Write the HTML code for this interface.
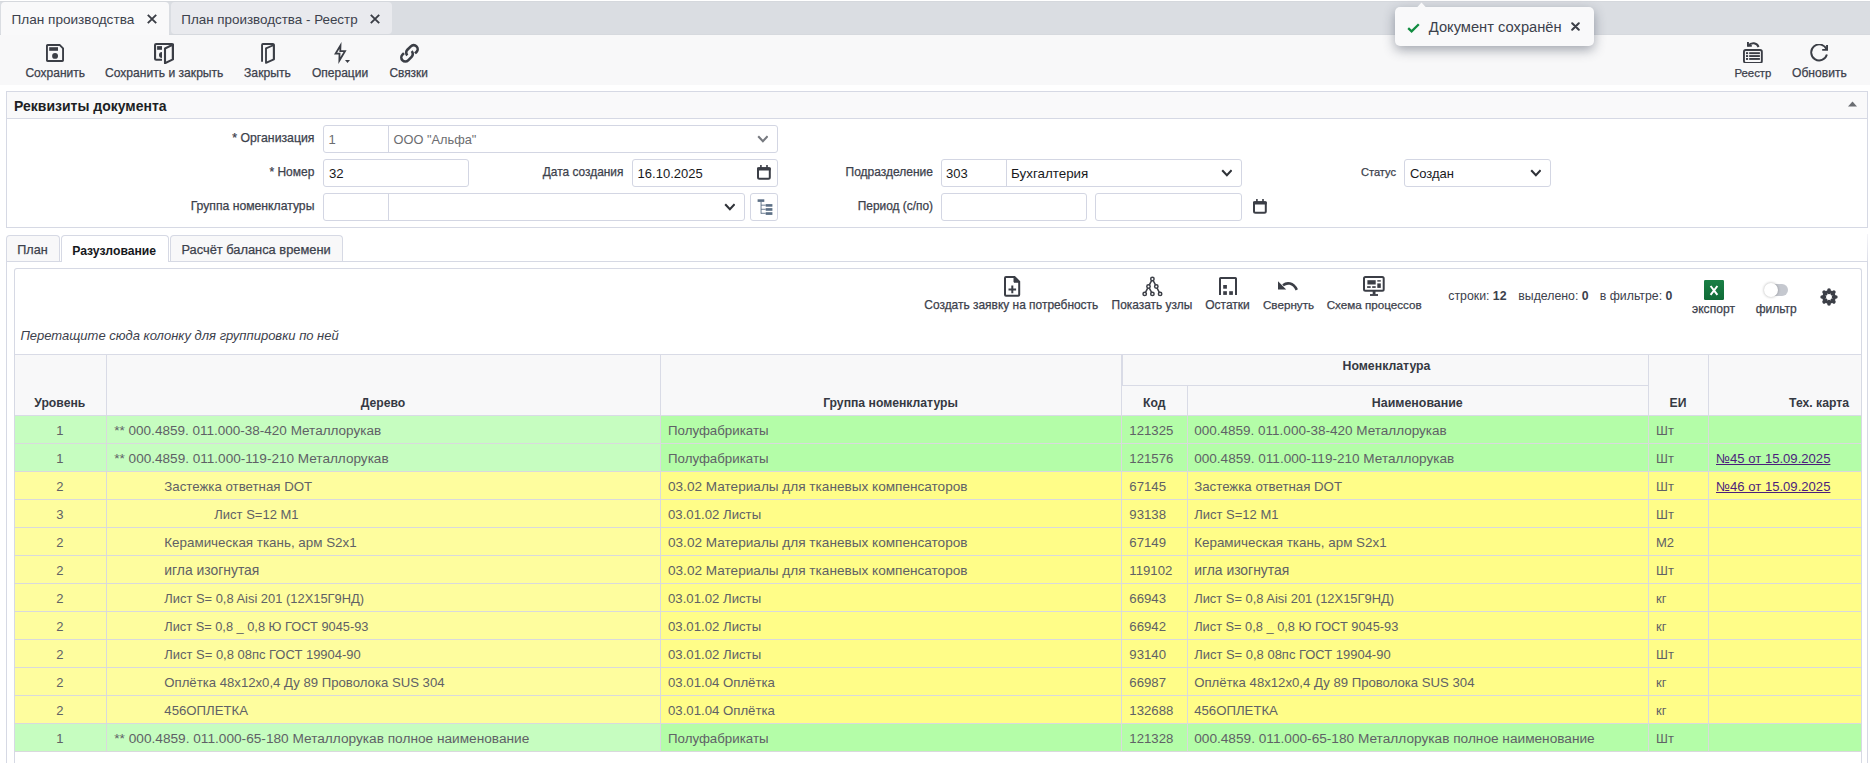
<!DOCTYPE html>
<html><head><meta charset="utf-8"><style>
html,body{margin:0;padding:0;width:1870px;height:763px;overflow:hidden;background:#fff;}
body{position:relative;font-family:"Liberation Sans",sans-serif;}
.t{position:absolute;white-space:pre;}
.r{position:absolute;}
b{font-weight:700;}
</style></head><body>
<div class="r" style="left:0px;top:1px;width:1870px;height:34px;background:#dadde2;border-top:1px solid #d5d8dd;border-bottom:1px solid #d6d9de;box-sizing:border-box;"></div>
<div class="r" style="left:1px;top:2px;width:168px;height:33px;background:#f9f9fa;border-radius:4px 4px 0 0;"></div>
<div class="r" style="left:171px;top:2px;width:221px;height:32px;background:#e9eaee;border-radius:4px 4px 4px 4px;"></div>
<div class="t" style="left:11.5px;top:13px;font-size:13.6px;line-height:13.6px;color:#3c414c;">План производства</div>
<div class="t" style="left:181.3px;top:13px;font-size:13.4px;line-height:13.4px;color:#3c414c;">План производства - Реестр</div>
<svg class="r" style="left:146px;top:13px" width="12" height="12" viewBox="0 0 12 12"><path d="M1.8 1.8L10.2 10.2M10.2 1.8L1.8 10.2" stroke="#3b3e46" stroke-width="1.9" fill="none"/></svg>
<svg class="r" style="left:369px;top:13px" width="12" height="12" viewBox="0 0 12 12"><path d="M1.8 1.8L10.2 10.2M10.2 1.8L1.8 10.2" stroke="#3b3e46" stroke-width="1.9" fill="none"/></svg>
<div class="r" style="left:0px;top:35px;width:1870px;height:50px;background:#f8f8f9;"></div>
<svg class="r" style="left:46px;top:44px" width="18" height="18" viewBox="0 0 18 18"><path d="M0.95 1.65Q0.95 0.95 1.65 0.95H13.6L17.05 4.4V16.35Q17.05 17.05 16.35 17.05H1.65Q0.95 17.05 0.95 16.35Z" fill="none" stroke="#3b3e46" stroke-width="1.9"/><rect x="3.2" y="3.2" width="8.8" height="3.6" fill="#3b3e46"/><circle cx="9.05" cy="11.9" r="2.95" fill="#3b3e46"/></svg>
<svg class="r" style="left:154px;top:43px" width="20" height="21" viewBox="0 0 20 21"><path d="M8 16.8H2.1Q1.05 16.8 1.05 15.8V2.1Q1.05 1.05 2.1 1.05H17.9Q18.95 1.05 18.95 2.1V16.5" fill="none" stroke="#3b3e46" stroke-width="2.1"/><path d="M11 5.5L18.9 1.6V16.4L11 20.2Z" fill="none" stroke="#3b3e46" stroke-width="2.1" stroke-linejoin="round"/><rect x="3.1" y="3.1" width="4.9" height="3.7" fill="#3b3e46"/><path d="M8 9A3 3 0 0 0 8 15Z" fill="#3b3e46"/></svg>
<svg class="r" style="left:261px;top:42px" width="15" height="22" viewBox="0 0 15 22"><path d="M1.05 19.8V2.9Q1.05 2 1.95 2H11.95Q12.85 2 12.85 2.9V17.6" fill="none" stroke="#3b3e46" stroke-width="1.9"/><path d="M5 6.3L12.85 3V17.4L5 20.9Z" fill="none" stroke="#3b3e46" stroke-width="1.85" stroke-linejoin="round"/></svg>
<svg class="r" style="left:334px;top:42px" width="17" height="22" viewBox="0 0 17 22"><path d="M6.47 3.54L1.6 11.6L5.52 11.6L5.37 18.52L11.01 9.1L6.27 9.1Z" fill="none" stroke="#3b3e46" stroke-width="1.8" stroke-linejoin="miter" stroke-miterlimit="12"/><path d="M11 17.9H16L13.5 20.9Z" fill="#3b3e46"/></svg>
<svg class="r" style="left:399px;top:43px" width="21" height="21" viewBox="0 0 21 21"><g transform="translate(10.5 10.3) rotate(-45)" fill="none" stroke="#3b3e46" stroke-width="2.6"><path d="M3.8 4H5.9A4 4 0 0 0 5.9 -4H1A4 4 0 0 0 -3 0"/><path d="M-3.8 -4H-5.9A4 4 0 0 0 -5.9 4H-1A4 4 0 0 0 3 0"/></g></svg>
<div class="t" style="left:25.4px;top:67px;font-size:12px;line-height:12px;color:#3c414c;-webkit-text-stroke:0.25px #3c414c;">Сохранить</div>
<div class="t" style="left:105px;top:67px;font-size:12.1px;line-height:12.1px;color:#3c414c;-webkit-text-stroke:0.25px #3c414c;">Сохранить и закрыть</div>
<div class="t" style="left:244px;top:67px;font-size:12.2px;line-height:12.2px;color:#3c414c;-webkit-text-stroke:0.25px #3c414c;">Закрыть</div>
<div class="t" style="left:312px;top:67px;font-size:12px;line-height:12px;color:#3c414c;-webkit-text-stroke:0.25px #3c414c;">Операции</div>
<div class="t" style="left:389.4px;top:68px;font-size:11.9px;line-height:11.9px;color:#3c414c;-webkit-text-stroke:0.25px #3c414c;">Связки</div>
<svg class="r" style="left:1743px;top:41px" width="21" height="22" viewBox="0 0 21 22"><rect x="0.95" y="8.95" width="17.9" height="12.95" rx="1.8" fill="none" stroke="#3b3e46" stroke-width="1.9"/><g fill="#3b3e46"><rect x="3" y="11.2" width="2.1" height="1.9"/><rect x="3" y="14.1" width="2.1" height="1.9"/><rect x="3" y="17" width="2.1" height="1.9"/><rect x="6.2" y="11.2" width="10.7" height="1.9"/><rect x="6.2" y="14.1" width="10.7" height="1.9"/><rect x="6.2" y="17" width="10.7" height="1.9"/></g><path d="M4.9 4.9C8.6 1 13.8 1.6 15.6 6" fill="none" stroke="#3b3e46" stroke-width="2"/><path d="M4 1H5.9V3.9H8.8V5.8H4Z" fill="#3b3e46"/></svg>
<svg class="r" style="left:1810px;top:44px" width="19" height="19" viewBox="0 0 19 19"><path d="M16.9 10.6A8 8 0 1 1 16.6 5.4" fill="none" stroke="#3b3e46" stroke-width="1.9"/><path d="M18 1V6.8H12.2V4.9H16.1V1Z" fill="#3b3e46"/></svg>
<div class="t" style="left:1734.4px;top:68px;font-size:11.4px;line-height:11.4px;color:#3c414c;-webkit-text-stroke:0.25px #3c414c;">Реестр</div>
<div class="t" style="left:1792px;top:67px;font-size:12.1px;line-height:12.1px;color:#3c414c;-webkit-text-stroke:0.25px #3c414c;">Обновить</div>
<div class="r" style="left:6px;top:91px;width:1862px;height:137px;border:1px solid #d6d9e4;box-sizing:border-box;background:#fff;"></div>
<div class="r" style="left:7px;top:92px;width:1860px;height:26px;background:#f9f9fa;border-bottom:1px solid #d6d9e4;"></div>
<div class="t" style="left:14px;top:99px;font-size:14px;line-height:14px;color:#1d1f24;font-weight:700;">Реквизиты документа</div>
<svg class="r" style="left:1847.8px;top:101.3px" width="9" height="5.6" viewBox="0 0 9 5.6"><path d="M0 5.6L4.5 0.4L9 5.6Z" fill="#6a6d72"/></svg>
<div class="t" style="right:1555.6px;top:132px;font-size:12.25px;line-height:12.25px;color:#3c414c;-webkit-text-stroke:0.25px #3c414c;">* Организация</div>
<div class="t" style="right:1555.6px;top:166px;font-size:12px;line-height:12px;color:#3c414c;-webkit-text-stroke:0.25px #3c414c;">* Номер</div>
<div class="t" style="right:1555.6px;top:200px;font-size:12.2px;line-height:12.2px;color:#3c414c;-webkit-text-stroke:0.25px #3c414c;">Группа номенклатуры</div>
<div class="t" style="right:1246.6px;top:167px;font-size:11.9px;line-height:11.9px;color:#3c414c;-webkit-text-stroke:0.25px #3c414c;">Дата создания</div>
<div class="t" style="right:937px;top:166px;font-size:12px;line-height:12px;color:#3c414c;-webkit-text-stroke:0.25px #3c414c;">Подразделение</div>
<div class="t" style="right:937px;top:201px;font-size:11.9px;line-height:11.9px;color:#3c414c;-webkit-text-stroke:0.25px #3c414c;">Период (с/по)</div>
<div class="t" style="right:474px;top:167px;font-size:11.1px;line-height:11.1px;color:#3c414c;-webkit-text-stroke:0.25px #3c414c;">Статус</div>
<div class="r" style="left:323px;top:125px;width:455px;height:28px;border:1px solid #d3d6e3;border-radius:3px;box-sizing:border-box;background:#fff;"></div>
<div class="r" style="left:388px;top:126px;width:1px;height:26px;background:#d3d6e3;"></div>
<div class="r" style="left:323px;top:159px;width:146px;height:28px;border:1px solid #d3d6e3;border-radius:3px;box-sizing:border-box;background:#fff;"></div>
<div class="r" style="left:323px;top:193px;width:422px;height:28px;border:1px solid #d3d6e3;border-radius:3px;box-sizing:border-box;background:#fff;"></div>
<div class="r" style="left:388px;top:194px;width:1px;height:26px;background:#d3d6e3;"></div>
<div class="r" style="left:750px;top:193px;width:28px;height:28px;border:1px solid #d3d6e3;border-radius:3px;box-sizing:border-box;background:#fff;"></div>
<div class="r" style="left:632px;top:159px;width:146px;height:28px;border:1px solid #d3d6e3;border-radius:3px;box-sizing:border-box;background:#fff;"></div>
<div class="r" style="left:941px;top:159px;width:301px;height:28px;border:1px solid #d3d6e3;border-radius:3px;box-sizing:border-box;background:#fff;"></div>
<div class="r" style="left:1006px;top:160px;width:1px;height:26px;background:#d3d6e3;"></div>
<div class="r" style="left:941px;top:193px;width:146px;height:28px;border:1px solid #d3d6e3;border-radius:3px;box-sizing:border-box;background:#fff;"></div>
<div class="r" style="left:1095px;top:193px;width:147px;height:28px;border:1px solid #d3d6e3;border-radius:3px;box-sizing:border-box;background:#fff;"></div>
<div class="r" style="left:1404px;top:159px;width:147px;height:28px;border:1px solid #d3d6e3;border-radius:3px;box-sizing:border-box;background:#fff;"></div>
<div class="t" style="left:328.5px;top:133px;font-size:13px;line-height:13px;color:#6c6d70;">1</div>
<div class="t" style="left:393.6px;top:134px;font-size:12.8px;line-height:12.8px;color:#6c6d70;">ООО "Альфа"</div>
<div class="t" style="left:329px;top:167px;font-size:13.2px;line-height:13.2px;color:#18191c;">32</div>
<div class="t" style="left:637.6px;top:167px;font-size:13px;line-height:13px;color:#18191c;">16.10.2025</div>
<div class="t" style="left:946px;top:167px;font-size:13px;line-height:13px;color:#18191c;">303</div>
<div class="t" style="left:1011px;top:167px;font-size:13.4px;line-height:13.4px;color:#18191c;">Бухгалтерия</div>
<div class="t" style="left:1409.9px;top:167px;font-size:13px;line-height:13px;color:#18191c;">Создан</div>
<svg class="r" style="left:756.6px;top:134.8px" width="11.8" height="8.2" viewBox="0 0 11.8 8.2"><path d="M1.2 1.2L5.9 6.2L10.600000000000001 1.2" fill="none" stroke="#76797f" stroke-width="2.1"/></svg>
<svg class="r" style="left:723.7px;top:202.8px" width="11.8" height="8.2" viewBox="0 0 11.8 8.2"><path d="M1.2 1.2L5.9 6.2L10.600000000000001 1.2" fill="none" stroke="#2f3238" stroke-width="2.1"/></svg>
<svg class="r" style="left:1220.7px;top:168.8px" width="11.8" height="8.2" viewBox="0 0 11.8 8.2"><path d="M1.2 1.2L5.9 6.2L10.600000000000001 1.2" fill="none" stroke="#2f3238" stroke-width="2.1"/></svg>
<svg class="r" style="left:1529.6px;top:168.8px" width="11.8" height="8.2" viewBox="0 0 11.8 8.2"><path d="M1.2 1.2L5.9 6.2L10.600000000000001 1.2" fill="none" stroke="#2f3238" stroke-width="2.1"/></svg>
<svg class="r" style="left:757px;top:165px" width="15" height="15" viewBox="0 0 15 15"><rect x="1" y="3.3" width="11.8" height="10.5" rx="1.5" fill="none" stroke="#3b3e46" stroke-width="2"/><rect x="0" y="2.3" width="13.8" height="3.3" rx="1" fill="#3b3e46"/><rect x="3.1" y="0" width="1.6" height="3" fill="#3b3e46"/><rect x="9.2" y="0" width="1.6" height="3" fill="#3b3e46"/></svg>
<svg class="r" style="left:1252.5px;top:199px" width="15" height="15" viewBox="0 0 15 15"><rect x="1" y="3.3" width="11.8" height="10.5" rx="1.5" fill="none" stroke="#3b3e46" stroke-width="2"/><rect x="0" y="2.3" width="13.8" height="3.3" rx="1" fill="#3b3e46"/><rect x="3.1" y="0" width="1.6" height="3" fill="#3b3e46"/><rect x="9.2" y="0" width="1.6" height="3" fill="#3b3e46"/></svg>
<svg class="r" style="left:756.5px;top:199px" width="16" height="16" viewBox="0 0 16 16"><g fill="#5d7086"><rect x="0.6" y="0.3" width="6.7" height="2.6"/><rect x="3.6" y="2.9" width="0.9" height="11.8"/><rect x="4" y="5.7" width="4.7" height="0.9"/><rect x="4" y="9.8" width="4.7" height="0.9"/><rect x="4" y="13.8" width="4.7" height="0.9"/><rect x="8.7" y="5.1" width="6.7" height="2.6"/><rect x="8.7" y="9.1" width="6.7" height="2.7"/><rect x="8.7" y="13.2" width="6.7" height="2.7"/></g></svg>
<div class="r" style="left:6px;top:261px;width:1862px;height:502px;border:1px solid #d6d9e4;border-bottom:none;box-sizing:border-box;background:#fff;"></div>
<div class="r" style="left:6px;top:235px;width:54px;height:26px;background:#f8f8f9;border:1px solid #d6d9e4;border-bottom:none;border-radius:4px 4px 0 0;box-sizing:border-box;"></div>
<div class="r" style="left:61px;top:235px;width:108px;height:27px;background:#fff;border:1px solid #d6d9e4;border-bottom:none;border-radius:4px 4px 0 0;box-sizing:border-box;"></div>
<div class="r" style="left:170px;top:235px;width:173px;height:26px;background:#f8f8f9;border:1px solid #d6d9e4;border-bottom:none;border-radius:4px 4px 0 0;box-sizing:border-box;"></div>
<div class="t" style="left:17.3px;top:244px;font-size:12.6px;line-height:12.6px;color:#3c414c;-webkit-text-stroke:0.25px #3c414c;">План</div>
<div class="t" style="left:72.2px;top:245px;font-size:12.2px;line-height:12.2px;color:#16181c;font-weight:700;">Разузлование</div>
<div class="t" style="left:181.4px;top:244px;font-size:12.85px;line-height:12.85px;color:#3c414c;-webkit-text-stroke:0.25px #3c414c;">Расчёт баланса времени</div>
<div class="r" style="left:1867px;top:234px;width:1px;height:27px;background:linear-gradient(#f4f4f8,#dcdee8);"></div>
<div class="r" style="left:14px;top:268px;width:1848px;height:495px;border:1px solid #d6d9e4;border-bottom:none;border-radius:3px 3px 0 0;box-sizing:border-box;background:#fff;"></div>
<svg class="r" style="left:1003.5px;top:275.5px" width="17" height="21" viewBox="0 0 17 21"><path d="M2 1H10.5L15.2 5.7V18.8Q15.2 19.8 14.2 19.8H2Q1 19.8 1 18.8V2Q1 1 2 1Z" fill="none" stroke="#3b3e46" stroke-width="2"/><path d="M10 1V6.2H15.2Z" fill="#3b3e46" stroke="#3b3e46" stroke-width="1"/><path d="M8.3 9.6V17.2M4.5 13.4H12.1" stroke="#3b3e46" stroke-width="2"/></svg>
<svg class="r" style="left:1141.5px;top:275.5px" width="21" height="21" viewBox="0 0 21 21"><g fill="none" stroke="#3b3e46" stroke-width="1.5"><circle cx="10.4" cy="3" r="1.7"/><circle cx="6.5" cy="10.5" r="1.7"/><circle cx="14.3" cy="10.5" r="1.7"/><circle cx="2.7" cy="17.9" r="1.7"/><circle cx="10.4" cy="17.9" r="1.7"/><circle cx="18.1" cy="17.9" r="1.7"/><path d="M9.6 4.6L7.3 8.9M11.2 4.6L13.5 8.9M5.7 12.1L3.5 16.3M7.3 12.1L9.6 16.3M15.1 12.1L17.3 16.3"/></g></svg>
<svg class="r" style="left:1218.8px;top:277px" width="18" height="18" viewBox="0 0 18 18"><path d="M1 18V1.6Q1 1 1.6 1H16.4Q17 1 17 1.6V18" fill="none" stroke="#3b3e46" stroke-width="2"/><g fill="#3b3e46"><rect x="4.2" y="8" width="3.7" height="3.7"/><rect x="4.2" y="14.2" width="3.7" height="3.7"/><rect x="10.2" y="14.2" width="3.7" height="3.7"/></g></svg>
<svg class="r" style="left:1277.8px;top:280px" width="20" height="11" viewBox="0 0 20 11"><path d="M5 5.2C9 2.2 15 2.4 18.8 9.8" fill="none" stroke="#3b3e46" stroke-width="2.6"/><path d="M0 1.2V9.6H8.2Z" fill="#3b3e46"/></svg>
<svg class="r" style="left:1363px;top:276px" width="22" height="20" viewBox="0 0 22 20"><rect x="1" y="1" width="19.7" height="13.7" rx="1.5" fill="none" stroke="#3b3e46" stroke-width="2"/><g fill="#3b3e46"><rect x="4.4" y="4.2" width="8.3" height="4.3"/><rect x="14.3" y="4.2" width="3.5" height="1.4"/><rect x="14.3" y="7.4" width="3.5" height="4.5"/><rect x="4.1" y="10.2" width="3.6" height="1.7"/><rect x="9.2" y="10.2" width="3.5" height="1.7"/><rect x="9.7" y="15" width="2.8" height="3.5"/><rect x="7" y="18.1" width="8" height="1.8"/></g></svg>
<div class="t" style="left:924.3px;top:300px;font-size:11.95px;line-height:11.95px;color:#3c414c;-webkit-text-stroke:0.25px #3c414c;">Создать заявку на потребность</div>
<div class="t" style="left:1111.6px;top:300px;font-size:11.9px;line-height:11.9px;color:#3c414c;-webkit-text-stroke:0.25px #3c414c;">Показать узлы</div>
<div class="t" style="left:1205.2px;top:299px;font-size:12px;line-height:12px;color:#3c414c;-webkit-text-stroke:0.25px #3c414c;">Остатки</div>
<div class="t" style="left:1262.9px;top:299px;font-size:11.7px;line-height:11.7px;color:#3c414c;-webkit-text-stroke:0.25px #3c414c;">Свернуть</div>
<div class="t" style="left:1326.7px;top:299px;font-size:11.65px;line-height:11.65px;color:#3c414c;-webkit-text-stroke:0.25px #3c414c;">Схема процессов</div>
<div class="t" style="left:1448.3px;top:290px;font-size:12.3px;line-height:12.3px;color:#3c414c;">строки: <b>12</b></div>
<div class="t" style="left:1518.3px;top:290px;font-size:12.3px;line-height:12.3px;color:#3c414c;">выделено: <b>0</b></div>
<div class="t" style="left:1599.8px;top:290px;font-size:12.3px;line-height:12.3px;color:#3c414c;">в фильтре: <b>0</b></div>
<svg class="r" style="left:1704px;top:280px" width="20" height="20" viewBox="0 0 20 20"><defs><linearGradient id="xg" x1="0" y1="0" x2="0" y2="1"><stop offset="0" stop-color="#1a7f45"/><stop offset="1" stop-color="#0f6b37"/></linearGradient></defs><rect x="0" y="0" width="20" height="20" rx="1.2" fill="url(#xg)"/><path d="M6.6 6L13.4 14.8M13.4 6L6.6 14.8" stroke="#fff" stroke-width="2"/></svg>
<div class="t" style="left:1692px;top:303px;font-size:12.1px;line-height:12.1px;color:#3c414c;-webkit-text-stroke:0.25px #3c414c;">экспорт</div>
<div class="r" style="left:1766px;top:284px;width:22px;height:12px;background:#c5c8cf;border-radius:6px;"></div>
<div class="r" style="left:1764px;top:282.8px;width:14.2px;height:14.2px;background:#fff;border-radius:50%;box-shadow:0 0 3px rgba(0,0,0,0.32);"></div>
<div class="t" style="left:1755.7px;top:303px;font-size:12px;line-height:12px;color:#3c414c;-webkit-text-stroke:0.25px #3c414c;">фильтр</div>
<svg class="r" style="left:1820px;top:288px" width="18" height="18" viewBox="0 0 18 18"><g fill="none" stroke="#3b3e46"><circle cx="9" cy="9" r="5.5" stroke-width="2.5"/><line x1="9" y1="2.1" x2="9" y2="4.5" stroke-width="3.6" stroke-linecap="round" transform="rotate(0 9 9)"/><line x1="9" y1="2.1" x2="9" y2="4.5" stroke-width="3.6" stroke-linecap="round" transform="rotate(45 9 9)"/><line x1="9" y1="2.1" x2="9" y2="4.5" stroke-width="3.6" stroke-linecap="round" transform="rotate(90 9 9)"/><line x1="9" y1="2.1" x2="9" y2="4.5" stroke-width="3.6" stroke-linecap="round" transform="rotate(135 9 9)"/><line x1="9" y1="2.1" x2="9" y2="4.5" stroke-width="3.6" stroke-linecap="round" transform="rotate(180 9 9)"/><line x1="9" y1="2.1" x2="9" y2="4.5" stroke-width="3.6" stroke-linecap="round" transform="rotate(225 9 9)"/><line x1="9" y1="2.1" x2="9" y2="4.5" stroke-width="3.6" stroke-linecap="round" transform="rotate(270 9 9)"/><line x1="9" y1="2.1" x2="9" y2="4.5" stroke-width="3.6" stroke-linecap="round" transform="rotate(315 9 9)"/></g></svg>
<div class="t" style="left:20.4px;top:329px;font-size:13px;line-height:13px;color:#3c414c;font-style:italic;">Перетащите сюда колонку для группировки по ней</div>
<div class="r" style="left:15px;top:354px;width:1846px;height:62px;background:#f8f8f9;border-top:1px solid #d9dbe6;border-bottom:1px solid #d9dbe6;box-sizing:border-box;"></div>
<div class="r" style="left:106px;top:355px;width:1px;height:60px;background:#d9dbe6;"></div>
<div class="r" style="left:660px;top:355px;width:1px;height:60px;background:#d9dbe6;"></div>
<div class="r" style="left:1708px;top:355px;width:1px;height:60px;background:#d9dbe6;"></div>
<div class="r" style="left:1121px;top:355px;width:2px;height:31px;background:#d9dbe6;"></div>
<div class="r" style="left:1121px;top:385px;width:1px;height:30px;background:#d9dbe6;"></div>
<div class="r" style="left:1648px;top:355px;width:1px;height:60px;background:#d9dbe6;"></div>
<div class="r" style="left:1122px;top:385px;width:526px;height:1px;background:#d9dbe6;"></div>
<div class="r" style="left:1187px;top:386px;width:1px;height:29px;background:#d9dbe6;"></div>
<div class="t" style="left:-140.2px;width:400px;text-align:center;top:397px;font-size:12.2px;line-height:12.2px;color:#353943;font-weight:700;">Уровень</div>
<div class="t" style="left:183px;width:400px;text-align:center;top:397px;font-size:12.2px;line-height:12.2px;color:#353943;font-weight:700;">Дерево</div>
<div class="t" style="left:690.5px;width:400px;text-align:center;top:397px;font-size:12.2px;line-height:12.2px;color:#353943;font-weight:700;">Группа номенклатуры</div>
<div class="t" style="left:954.3px;width:400px;text-align:center;top:397px;font-size:12.2px;line-height:12.2px;color:#353943;font-weight:700;">Код</div>
<div class="t" style="left:1217.3px;width:400px;text-align:center;top:397px;font-size:12.4px;line-height:12.4px;color:#353943;font-weight:700;">Наименование</div>
<div class="t" style="left:1478px;width:400px;text-align:center;top:397px;font-size:12.2px;line-height:12.2px;color:#353943;font-weight:700;">ЕИ</div>
<div class="t" style="right:21px;top:397px;font-size:12.2px;line-height:12.2px;color:#353943;font-weight:700;">Тех. карта</div>
<div class="t" style="left:1186.5px;width:400px;text-align:center;top:360px;font-size:12.3px;line-height:12.3px;color:#353943;font-weight:700;">Номенклатура</div>
<div class="r" style="left:15px;top:416px;width:645px;height:27px;background:#c6fdc0;"></div>
<div class="r" style="left:660px;top:416px;width:1201px;height:27px;background:#b4fda8;"></div>
<div class="r" style="left:15px;top:443px;width:1846px;height:1px;background:#d9d9dd;"></div>
<div class="t" style="left:-140.2px;width:400px;text-align:center;top:424px;font-size:13px;line-height:13px;color:#606166;">1</div>
<div class="t" style="left:114.3px;top:424px;font-size:13.53px;line-height:13.53px;color:#606166;">** 000.4859. 011.000-38-420 Металлорукав</div>
<div class="t" style="left:668px;top:424px;font-size:13.3px;line-height:13.3px;color:#606166;">Полуфабрикаты</div>
<div class="t" style="left:1129.3px;top:424px;font-size:13.2px;line-height:13.2px;color:#606166;">121325</div>
<div class="t" style="left:1194.2px;top:424px;font-size:13.53px;line-height:13.53px;color:#606166;">000.4859. 011.000-38-420 Металлорукав</div>
<div class="t" style="left:1656px;top:424px;font-size:13px;line-height:13px;color:#606166;">Шт</div>
<div class="r" style="left:15px;top:444px;width:645px;height:27px;background:#c6fdc0;"></div>
<div class="r" style="left:660px;top:444px;width:1201px;height:27px;background:#b4fda8;"></div>
<div class="r" style="left:15px;top:471px;width:1846px;height:1px;background:#d9d9dd;"></div>
<div class="t" style="left:-140.2px;width:400px;text-align:center;top:452px;font-size:13px;line-height:13px;color:#606166;">1</div>
<div class="t" style="left:114.3px;top:452px;font-size:13.57px;line-height:13.57px;color:#606166;">** 000.4859. 011.000-119-210 Металлорукав</div>
<div class="t" style="left:668px;top:452px;font-size:13.3px;line-height:13.3px;color:#606166;">Полуфабрикаты</div>
<div class="t" style="left:1129.3px;top:452px;font-size:13.2px;line-height:13.2px;color:#606166;">121576</div>
<div class="t" style="left:1194.2px;top:452px;font-size:13.57px;line-height:13.57px;color:#606166;">000.4859. 011.000-119-210 Металлорукав</div>
<div class="t" style="left:1656px;top:452px;font-size:13px;line-height:13px;color:#606166;">Шт</div>
<div class="t" style="left:1716px;top:452px;font-size:13.1px;line-height:13.1px;color:#4c1d7c;text-decoration:underline;">№45 от 15.09.2025</div>
<div class="r" style="left:15px;top:472px;width:645px;height:27px;background:#fefd9e;"></div>
<div class="r" style="left:660px;top:472px;width:1201px;height:27px;background:#fffd88;"></div>
<div class="r" style="left:15px;top:499px;width:1846px;height:1px;background:#d9d9dd;"></div>
<div class="t" style="left:-140.2px;width:400px;text-align:center;top:480px;font-size:13px;line-height:13px;color:#606166;">2</div>
<div class="t" style="left:164.3px;top:480px;font-size:13.28px;line-height:13.28px;color:#606166;">Застежка ответная DOT</div>
<div class="t" style="left:668px;top:480px;font-size:13.6px;line-height:13.6px;color:#606166;">03.02 Материалы для тканевых компенсаторов</div>
<div class="t" style="left:1129.3px;top:480px;font-size:13.2px;line-height:13.2px;color:#606166;">67145</div>
<div class="t" style="left:1194.2px;top:480px;font-size:13.28px;line-height:13.28px;color:#606166;">Застежка ответная DOT</div>
<div class="t" style="left:1656px;top:480px;font-size:13px;line-height:13px;color:#606166;">Шт</div>
<div class="t" style="left:1716px;top:480px;font-size:13.1px;line-height:13.1px;color:#4c1d7c;text-decoration:underline;">№46 от 15.09.2025</div>
<div class="r" style="left:15px;top:500px;width:645px;height:27px;background:#fefd9e;"></div>
<div class="r" style="left:660px;top:500px;width:1201px;height:27px;background:#fffd88;"></div>
<div class="r" style="left:15px;top:527px;width:1846px;height:1px;background:#d9d9dd;"></div>
<div class="t" style="left:-140.2px;width:400px;text-align:center;top:508px;font-size:13px;line-height:13px;color:#606166;">3</div>
<div class="t" style="left:214.3px;top:508px;font-size:13.0px;line-height:13.0px;color:#606166;">Лист S=12 M1</div>
<div class="t" style="left:668px;top:508px;font-size:13.2px;line-height:13.2px;color:#606166;">03.01.02 Листы</div>
<div class="t" style="left:1129.3px;top:508px;font-size:13.2px;line-height:13.2px;color:#606166;">93138</div>
<div class="t" style="left:1194.2px;top:508px;font-size:13.0px;line-height:13.0px;color:#606166;">Лист S=12 M1</div>
<div class="t" style="left:1656px;top:508px;font-size:13px;line-height:13px;color:#606166;">Шт</div>
<div class="r" style="left:15px;top:528px;width:645px;height:27px;background:#fefd9e;"></div>
<div class="r" style="left:660px;top:528px;width:1201px;height:27px;background:#fffd88;"></div>
<div class="r" style="left:15px;top:555px;width:1846px;height:1px;background:#d9d9dd;"></div>
<div class="t" style="left:-140.2px;width:400px;text-align:center;top:536px;font-size:13px;line-height:13px;color:#606166;">2</div>
<div class="t" style="left:164.3px;top:536px;font-size:13.4px;line-height:13.4px;color:#606166;">Керамическая ткань, арм S2x1</div>
<div class="t" style="left:668px;top:536px;font-size:13.6px;line-height:13.6px;color:#606166;">03.02 Материалы для тканевых компенсаторов</div>
<div class="t" style="left:1129.3px;top:536px;font-size:13.2px;line-height:13.2px;color:#606166;">67149</div>
<div class="t" style="left:1194.2px;top:536px;font-size:13.4px;line-height:13.4px;color:#606166;">Керамическая ткань, арм S2x1</div>
<div class="t" style="left:1656px;top:536px;font-size:13px;line-height:13px;color:#606166;">М2</div>
<div class="r" style="left:15px;top:556px;width:645px;height:27px;background:#fefd9e;"></div>
<div class="r" style="left:660px;top:556px;width:1201px;height:27px;background:#fffd88;"></div>
<div class="r" style="left:15px;top:583px;width:1846px;height:1px;background:#d9d9dd;"></div>
<div class="t" style="left:-140.2px;width:400px;text-align:center;top:564px;font-size:13px;line-height:13px;color:#606166;">2</div>
<div class="t" style="left:164.3px;top:564px;font-size:13.9px;line-height:13.9px;color:#606166;">игла изогнутая</div>
<div class="t" style="left:668px;top:564px;font-size:13.6px;line-height:13.6px;color:#606166;">03.02 Материалы для тканевых компенсаторов</div>
<div class="t" style="left:1129.3px;top:564px;font-size:13.2px;line-height:13.2px;color:#606166;">119102</div>
<div class="t" style="left:1194.2px;top:564px;font-size:13.9px;line-height:13.9px;color:#606166;">игла изогнутая</div>
<div class="t" style="left:1656px;top:564px;font-size:13px;line-height:13px;color:#606166;">Шт</div>
<div class="r" style="left:15px;top:584px;width:645px;height:27px;background:#fefd9e;"></div>
<div class="r" style="left:660px;top:584px;width:1201px;height:27px;background:#fffd88;"></div>
<div class="r" style="left:15px;top:611px;width:1846px;height:1px;background:#d9d9dd;"></div>
<div class="t" style="left:-140.2px;width:400px;text-align:center;top:592px;font-size:13px;line-height:13px;color:#606166;">2</div>
<div class="t" style="left:164.3px;top:593px;font-size:12.91px;line-height:12.91px;color:#606166;">Лист S= 0,8 Aisi 201 (12Х15Г9НД)</div>
<div class="t" style="left:668px;top:592px;font-size:13.2px;line-height:13.2px;color:#606166;">03.01.02 Листы</div>
<div class="t" style="left:1129.3px;top:592px;font-size:13.2px;line-height:13.2px;color:#606166;">66943</div>
<div class="t" style="left:1194.2px;top:593px;font-size:12.91px;line-height:12.91px;color:#606166;">Лист S= 0,8 Aisi 201 (12Х15Г9НД)</div>
<div class="t" style="left:1656px;top:592px;font-size:13px;line-height:13px;color:#606166;">кг</div>
<div class="r" style="left:15px;top:612px;width:645px;height:27px;background:#fefd9e;"></div>
<div class="r" style="left:660px;top:612px;width:1201px;height:27px;background:#fffd88;"></div>
<div class="r" style="left:15px;top:639px;width:1846px;height:1px;background:#d9d9dd;"></div>
<div class="t" style="left:-140.2px;width:400px;text-align:center;top:620px;font-size:13px;line-height:13px;color:#606166;">2</div>
<div class="t" style="left:164.3px;top:621px;font-size:12.8px;line-height:12.8px;color:#606166;">Лист S= 0,8 _ 0,8 Ю ГОСТ 9045-93</div>
<div class="t" style="left:668px;top:620px;font-size:13.2px;line-height:13.2px;color:#606166;">03.01.02 Листы</div>
<div class="t" style="left:1129.3px;top:620px;font-size:13.2px;line-height:13.2px;color:#606166;">66942</div>
<div class="t" style="left:1194.2px;top:621px;font-size:12.8px;line-height:12.8px;color:#606166;">Лист S= 0,8 _ 0,8 Ю ГОСТ 9045-93</div>
<div class="t" style="left:1656px;top:620px;font-size:13px;line-height:13px;color:#606166;">кг</div>
<div class="r" style="left:15px;top:640px;width:645px;height:27px;background:#fefd9e;"></div>
<div class="r" style="left:660px;top:640px;width:1201px;height:27px;background:#fffd88;"></div>
<div class="r" style="left:15px;top:667px;width:1846px;height:1px;background:#d9d9dd;"></div>
<div class="t" style="left:-140.2px;width:400px;text-align:center;top:648px;font-size:13px;line-height:13px;color:#606166;">2</div>
<div class="t" style="left:164.3px;top:649px;font-size:12.97px;line-height:12.97px;color:#606166;">Лист S= 0,8 08пс ГОСТ 19904-90</div>
<div class="t" style="left:668px;top:648px;font-size:13.2px;line-height:13.2px;color:#606166;">03.01.02 Листы</div>
<div class="t" style="left:1129.3px;top:648px;font-size:13.2px;line-height:13.2px;color:#606166;">93140</div>
<div class="t" style="left:1194.2px;top:649px;font-size:12.97px;line-height:12.97px;color:#606166;">Лист S= 0,8 08пс ГОСТ 19904-90</div>
<div class="t" style="left:1656px;top:648px;font-size:13px;line-height:13px;color:#606166;">Шт</div>
<div class="r" style="left:15px;top:668px;width:645px;height:27px;background:#fefd9e;"></div>
<div class="r" style="left:660px;top:668px;width:1201px;height:27px;background:#fffd88;"></div>
<div class="r" style="left:15px;top:695px;width:1846px;height:1px;background:#d9d9dd;"></div>
<div class="t" style="left:-140.2px;width:400px;text-align:center;top:676px;font-size:13px;line-height:13px;color:#606166;">2</div>
<div class="t" style="left:164.3px;top:676px;font-size:13.16px;line-height:13.16px;color:#606166;">Оплётка 48х12х0,4 Ду 89 Проволока SUS 304</div>
<div class="t" style="left:668px;top:676px;font-size:13.2px;line-height:13.2px;color:#606166;">03.01.04 Оплётка</div>
<div class="t" style="left:1129.3px;top:676px;font-size:13.2px;line-height:13.2px;color:#606166;">66987</div>
<div class="t" style="left:1194.2px;top:676px;font-size:13.16px;line-height:13.16px;color:#606166;">Оплётка 48х12х0,4 Ду 89 Проволока SUS 304</div>
<div class="t" style="left:1656px;top:676px;font-size:13px;line-height:13px;color:#606166;">кг</div>
<div class="r" style="left:15px;top:696px;width:645px;height:27px;background:#fefd9e;"></div>
<div class="r" style="left:660px;top:696px;width:1201px;height:27px;background:#fffd88;"></div>
<div class="r" style="left:15px;top:723px;width:1846px;height:1px;background:#d9d9dd;"></div>
<div class="t" style="left:-140.2px;width:400px;text-align:center;top:704px;font-size:13px;line-height:13px;color:#606166;">2</div>
<div class="t" style="left:164.3px;top:704px;font-size:13.2px;line-height:13.2px;color:#606166;">456ОПЛЕТКА</div>
<div class="t" style="left:668px;top:704px;font-size:13.2px;line-height:13.2px;color:#606166;">03.01.04 Оплётка</div>
<div class="t" style="left:1129.3px;top:704px;font-size:13.2px;line-height:13.2px;color:#606166;">132688</div>
<div class="t" style="left:1194.2px;top:704px;font-size:13.2px;line-height:13.2px;color:#606166;">456ОПЛЕТКА</div>
<div class="t" style="left:1656px;top:704px;font-size:13px;line-height:13px;color:#606166;">кг</div>
<div class="r" style="left:15px;top:724px;width:645px;height:27px;background:#c6fdc0;"></div>
<div class="r" style="left:660px;top:724px;width:1201px;height:27px;background:#b4fda8;"></div>
<div class="r" style="left:15px;top:751px;width:1846px;height:1px;background:#d9d9dd;"></div>
<div class="t" style="left:-140.2px;width:400px;text-align:center;top:732px;font-size:13px;line-height:13px;color:#606166;">1</div>
<div class="t" style="left:114.3px;top:732px;font-size:13.66px;line-height:13.66px;color:#606166;">** 000.4859. 011.000-65-180 Металлорукав полное наименование</div>
<div class="t" style="left:668px;top:732px;font-size:13.3px;line-height:13.3px;color:#606166;">Полуфабрикаты</div>
<div class="t" style="left:1129.3px;top:732px;font-size:13.2px;line-height:13.2px;color:#606166;">121328</div>
<div class="t" style="left:1194.2px;top:732px;font-size:13.66px;line-height:13.66px;color:#606166;">000.4859. 011.000-65-180 Металлорукав полное наименование</div>
<div class="t" style="left:1656px;top:732px;font-size:13px;line-height:13px;color:#606166;">Шт</div>
<div class="r" style="left:106px;top:416px;width:1px;height:336px;background:#d9d9dd;"></div>
<div class="r" style="left:660px;top:416px;width:1px;height:336px;background:#d9d9dd;"></div>
<div class="r" style="left:1121px;top:416px;width:1px;height:336px;background:#d9d9dd;"></div>
<div class="r" style="left:1187px;top:416px;width:1px;height:336px;background:#d9d9dd;"></div>
<div class="r" style="left:1648px;top:416px;width:1px;height:336px;background:#d9d9dd;"></div>
<div class="r" style="left:1708px;top:416px;width:1px;height:336px;background:#d9d9dd;"></div>
<div class="r" style="left:1395px;top:7px;width:199px;height:39px;background:#f9f9fa;border-radius:5px;box-shadow:0 4px 12px rgba(40,50,70,0.42);"></div>
<svg class="r" style="left:1416px;top:1.5px" width="11" height="7" viewBox="0 0 11 7"><path d="M0 6.5L5.5 0.5L11 6.5Z" fill="#f9f9fa"/></svg>
<svg class="r" style="left:1406.5px;top:22.5px" width="13" height="10" viewBox="0 0 13 10"><path d="M1.2 5.2L4.6 8.4L11.8 1.2" fill="none" stroke="#118c40" stroke-width="2.3"/></svg>
<div class="t" style="left:1428.8px;top:20px;font-size:14.7px;line-height:14.7px;color:#3c414c;">Документ сохранён</div>
<svg class="r" style="left:1571.3px;top:22.4px" width="9" height="9" viewBox="0 0 9 9"><path d="M1.2 1.2L7.8 7.8M7.8 1.2L1.2 7.8" stroke="#3b3e46" stroke-width="2" stroke-linecap="round"/></svg>
</body></html>
